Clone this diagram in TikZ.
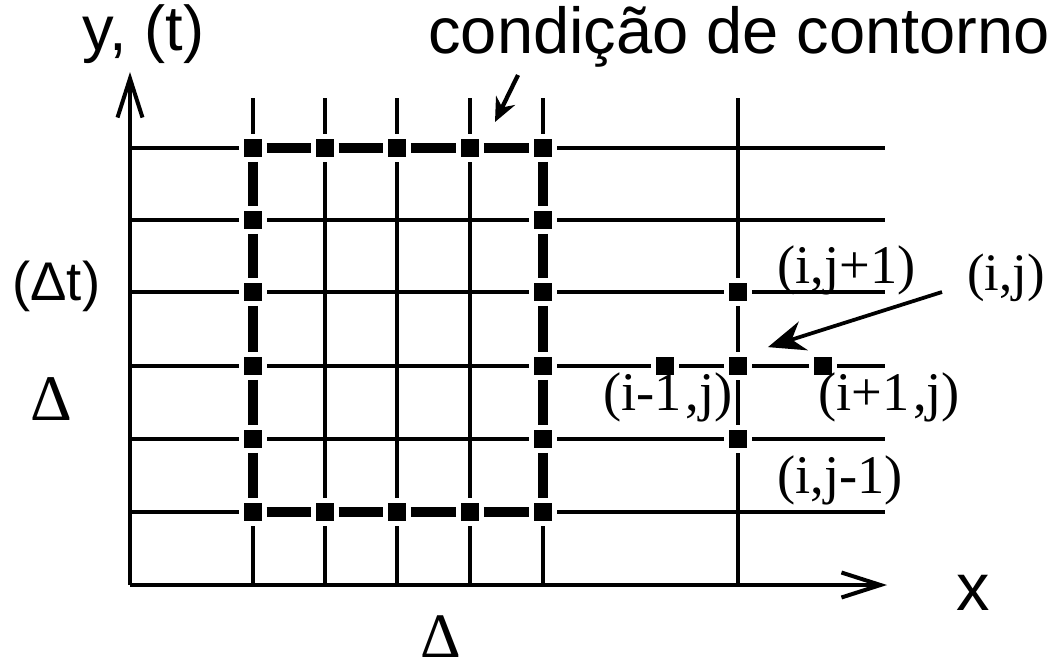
\documentclass[tikz,border=0pt]{standalone}
\usepackage{fontspec}
\setmainfont{Liberation Serif}
\setsansfont{Liberation Sans}
\usetikzlibrary{arrows.meta,positioning}

\begin{document}
\begin{tikzpicture}[x=0.02cm, y=-0.02cm,
grade/.style={line width=0.072cm},
eixo/.style={line width=0.08cm, -{Straight Barb[length=0.78cm, width=0.5cm, line width=0.08cm]}},
ponto/.style={draw=white, fill=black, line width=0.09cm, minimum size=0.46cm, inner sep=0pt},
borda/.style={line width=0.2cm},
seta/.style={line width=0.075cm, -{Stealth[length=0.74cm, width=0.6cm]}},
setac/.style={line width=0.085cm, -{Stealth[length=0.48cm, width=0.42cm]}},
textosans/.style={font=\sffamily\fontsize{36}{36}\selectfont, inner sep=0pt},
rotulo/.style={font=\fontsize{31}{31}\selectfont, inner sep=0pt}
]
\useasboundingbox (0,0) rectangle (1049,670);

% grade
\foreach \yy in {148,220,292,366,439,512}
  \draw[grade] (130,\yy) -- (885,\yy);
\foreach \xx in {253,325,397,470,543,738}
  \draw[grade] (\xx,98) -- (\xx,585);

% eixos
\coordinate (origem) at (130,585);
\coordinate (topoy) at (130,72);
\coordinate (fimx) at (887,585);
\draw[eixo] (origem) -- (topoy);
\draw[eixo] (origem) -- (fimx);

% pontos da condicao de contorno
\node[ponto] (t1) at (253,148) {};
\node[ponto] (t2) at (325,148) {};
\node[ponto] (t3) at (397,148) {};
\node[ponto] (t4) at (470,148) {};
\node[ponto] (t5) at (543,148) {};
\node[ponto] (f1) at (253,512) {};
\node[ponto] (f2) at (325,512) {};
\node[ponto] (f3) at (397,512) {};
\node[ponto] (f4) at (470,512) {};
\node[ponto] (f5) at (543,512) {};
\node[ponto] (e1) at (253,220) {};
\node[ponto] (e2) at (253,292) {};
\node[ponto] (e3) at (253,366) {};
\node[ponto] (e4) at (253,439) {};
\node[ponto] (d1) at (543,220) {};
\node[ponto] (d2) at (543,292) {};
\node[ponto] (d3) at (543,366) {};
\node[ponto] (d4) at (543,439) {};

\draw[borda] (t1) -- (t2);
\draw[borda] (t2) -- (t3);
\draw[borda] (t3) -- (t4);
\draw[borda] (t4) -- (t5);
\draw[borda] (f1) -- (f2);
\draw[borda] (f2) -- (f3);
\draw[borda] (f3) -- (f4);
\draw[borda] (f4) -- (f5);
\draw[borda] (t1) -- (e1);
\draw[borda] (e1) -- (e2);
\draw[borda] (e2) -- (e3);
\draw[borda] (e3) -- (e4);
\draw[borda] (e4) -- (f1);
\draw[borda] (t5) -- (d1);
\draw[borda] (d1) -- (d2);
\draw[borda] (d2) -- (d3);
\draw[borda] (d3) -- (d4);
\draw[borda] (d4) -- (f5);

% molecula de calculo
\node[ponto] (ij) at (738,366) {};
\node[ponto] (ijmais) at (738,292) {};
\node[ponto] (ijmenos) at (738,439) {};
\node[ponto] (imenos) at (665,366) {};
\node[ponto] (imais) at (823,366) {};

% textos
\node[textosans, anchor=base west] (roty) at (82,50) {y, (t)};
\node[textosans, anchor=base west, font=\sffamily\fontsize{37}{37}\selectfont] (rotcont) at (428,53) {condição de contorno};
\node[textosans, anchor=base west, font=\sffamily\fontsize{31}{31}\selectfont] (rotdt) at (12,300) {(Δt)};
\node[rotulo, anchor=base, font=\fontsize{37}{37}\selectfont] (rotdy) at (51,420) {Δ};
\node[rotulo, anchor=base, font=\fontsize{36}{36}\selectfont] (rotdx) at (441,657) {Δ};
\node[textosans, anchor=base, font=\sffamily\fontsize{38}{38}\selectfont] (rotx) at (973,610) {x};

\node[rotulo, anchor=base west] (lijmais) at (777,283) {(i,j+1)};
\node[rotulo, anchor=base west, font=\fontsize{30}{30}\selectfont] (lij) at (967,290) {(i,j)};
\node[rotulo, anchor=base west] (limais) at (818,410) {(i+1\kern2pt,j)};
\node[rotulo, anchor=base west] (limenos) at (603,410) {(i-1\kern2pt,j)};
\node[rotulo, anchor=base west] (lijmenos) at (777,493) {(i,j-1)};

% setas
\coordinate (inicont) at (518,75);
\coordinate (fimcont) at (495,122);
\draw[setac] (inicont) -- (fimcont);
\coordinate (iniij) at (942,292);
\draw[seta, shorten >=0.34cm] (iniij) -- (ij.north east);
\end{tikzpicture}
\end{document}
